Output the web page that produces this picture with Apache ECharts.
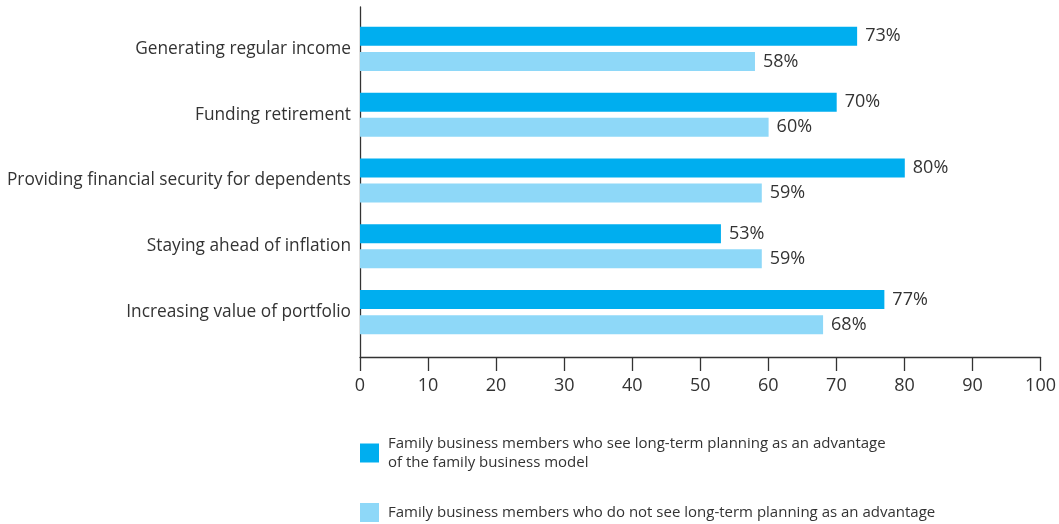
<!DOCTYPE html>
<html><head><meta charset="utf-8">
<script src="https://cdn.jsdelivr.net/npm/echarts@6/dist/echarts.min.js"></script>
<style>html,body{margin:0;padding:0;background:#fff}#c{width:1059px;height:524px}</style>
</head><body><div id="c"></div>
<script>
const categories = ["Generating regular income","Funding retirement","Providing financial security for dependents","Staying ahead of inflation","Increasing value of portfolio"];
const seeAdvantage = [73,70,80,53,77];
const notSeeAdvantage = [58,60,59,59,68];
const xTicks = [0,10,20,30,40,50,60,70,80,90,100];
const seriesNames = ["Family business members who see long-term planning as an advantage\nof the family business model","Family business members who do not see long-term planning as an advantage"];

const FONT = "Open Sans";
const TXT = "#333333";
const chart = echarts.init(document.getElementById('c'));
chart.setOption({
  animation:false,
  textStyle:{fontFamily:FONT},
  grid:[
    {left:360,right:18,top:16,height:329},
    {left:360,right:18,top:7,height:350}
  ],
  xAxis:[
    {gridIndex:0,type:'value',min:0,max:100,interval:10,show:false},
    {gridIndex:1,type:'value',min:0,max:100,interval:10,
     axisLine:{show:true,lineStyle:{color:TXT,width:1.3}},
     axisTick:{show:true,length:14,inside:false,lineStyle:{color:TXT,width:1.3}},
     axisLabel:{color:TXT,fontSize:18,margin:20,fontFamily:FONT,formatter:v=>xTicks.includes(v)?String(v):''},
     splitLine:{show:false}}
  ],
  yAxis:[
    {gridIndex:0,type:'category',data:categories,inverse:true,
     axisLine:{show:false},axisTick:{show:false},
     axisLabel:{color:TXT,fontSize:17.3,margin:9,fontFamily:FONT}},
    {gridIndex:1,type:'value',min:0,max:1,
     axisLine:{show:true,lineStyle:{color:TXT,width:1.3}},
     axisTick:{show:false},axisLabel:{show:false},splitLine:{show:false}}
  ],
  legend:{
    orient:'vertical',left:360,top:434,padding:0,itemWidth:19,itemHeight:19,itemGap:31,
    icon:'rect',
    textStyle:{color:TXT,fontSize:15,lineHeight:19,fontFamily:FONT,padding:[0,0,0,4]},
    data:seriesNames
  },
  series:[
    {name:seriesNames[0],type:'bar',xAxisIndex:0,yAxisIndex:0,data:seeAdvantage,
     barWidth:19,barGap:'32%',itemStyle:{color:'#00AEEF'},
     label:{show:true,position:'right',distance:8,formatter:'{c}%',color:TXT,fontSize:18,fontFamily:FONT}},
    {name:seriesNames[1],type:'bar',xAxisIndex:0,yAxisIndex:0,data:notSeeAdvantage,
     barWidth:19,barGap:'32%',itemStyle:{color:'#8ED8F8'},
     label:{show:true,position:'right',distance:8,formatter:'{c}%',color:TXT,fontSize:18,fontFamily:FONT}}
  ]
});
</script></body></html>
